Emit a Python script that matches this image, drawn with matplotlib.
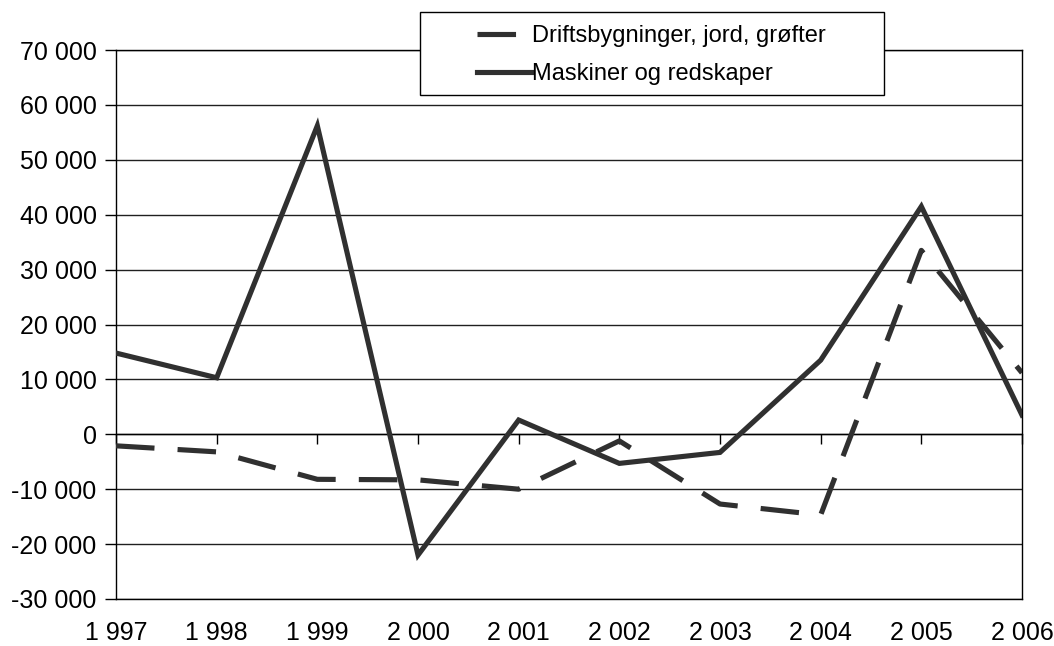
import matplotlib.pyplot as plt
from matplotlib.patches import Rectangle

plt.rcParams['font.family'] = ['Liberation Sans', 'DejaVu Sans']

# data
years = ['1 997', '1 998', '1 999', '2 000', '2 001', '2 002', '2 003', '2 004', '2 005', '2 006']
drift = [-2100, -3200, -8200, -8300, -10000, -1200, -12700, -14700, 33500, 11200]
maskiner = [14800, 10300, 56200, -22000, 2600, -5300, -3300, 13500, 41500, 3500]
yticks = [-30000, -20000, -10000, 0, 10000, 20000, 30000, 40000, 50000, 60000, 70000]

W, H = 1054, 646
fig = plt.figure(figsize=(W / 100, H / 100), dpi=100)
ax = fig.add_axes([116 / W, 1 - 599 / H, (1022 - 116) / W, (599 - 50) / H])

x = list(range(len(years)))
col = '#303030'
l1, = ax.plot(x, drift, color=col, lw=3.7, dashes=(7.5, 4.5), dash_capstyle='butt',
              label='Driftsbygninger, jord, grøfter', zorder=3)
l2, = ax.plot(x, maskiner, color=col, lw=3.7, solid_joinstyle='miter',
              label='Maskiner og redskaper', zorder=3)

ax.set_xlim(0, len(years) - 1)
ax.set_ylim(-30000, 70000)
ax.set_yticks(yticks)
ax.set_yticklabels([f'{v:,}'.replace(',', ' ') for v in yticks])
ax.tick_params(axis='y', direction='out', length=8, width=1, pad=6, labelsize=18, colors='black')
ax.yaxis.grid(True, color='#202020', lw=1)
ax.set_axisbelow(True)

# category ticks sit on the zero line, labels at the bottom
ax.spines['bottom'].set_position(('data', 0))
ax.spines['bottom'].set_linewidth(1)
ax.set_xticks(x)
ax.tick_params(axis='x', direction='out', length=7, width=1, labelbottom=False)
sec = ax.secondary_xaxis(0.0)
sec.set_xticks(x)
sec.set_xticklabels(years)
sec.tick_params(length=0, pad=16, labelsize=18)
sec.spines['bottom'].set_linewidth(1)
for s in ['left', 'right', 'top']:
    ax.spines[s].set_linewidth(1)
    ax.spines[s].set_color('black')

# legend box
fig.patches.append(Rectangle((420 / W, 1 - 95 / H), (884 - 420) / W, (95 - 12) / H,
                             transform=fig.transFigure, facecolor='white',
                             edgecolor='black', lw=1, zorder=4))
leg = fig.legend(handles=[l1, l2], loc='upper left', bbox_to_anchor=(477 / W, 1 - 25 / H),
                 bbox_transform=fig.transFigure, frameon=False, fontsize=17,
                 handlelength=2.3, handletextpad=0.05, labelspacing=0.68,
                 borderpad=0, borderaxespad=0)
leg.set_zorder(6)

fig.savefig('out.png', dpi=100)
